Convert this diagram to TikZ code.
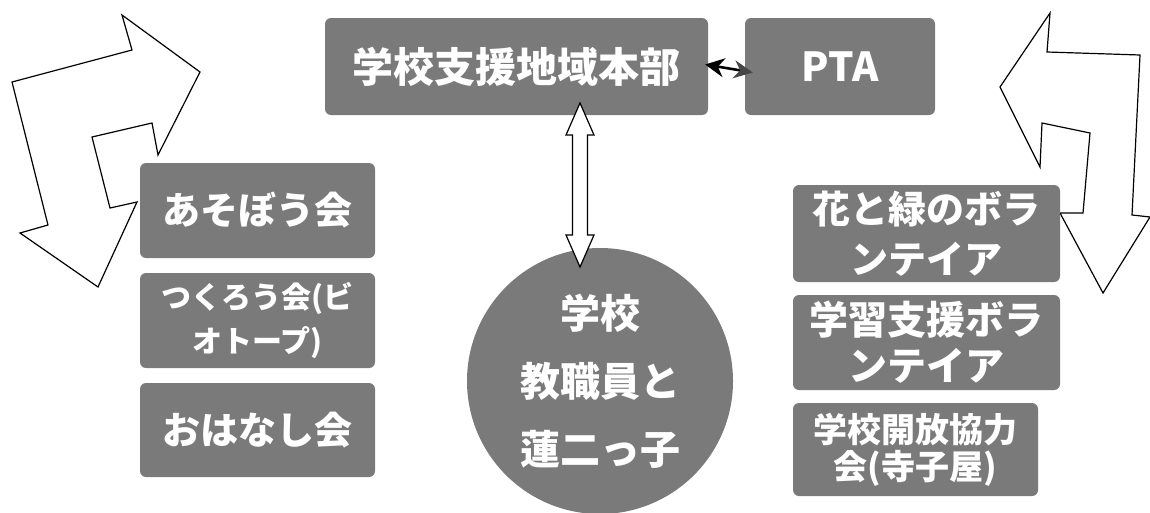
\documentclass[tikz,border=0pt]{standalone}
\usepackage{fontspec}
\newfontfamily\jp{Noto Sans CJK JP}
\usetikzlibrary{arrows.meta,calc}
\definecolor{boxgray}{RGB}{122,122,122}
\definecolor{tipgray}{RGB}{70,70,70}
\tikzset{
  gbox/.style={draw=none, fill=boxgray, rounded corners=6pt, inner sep=0pt,
    text=white, align=center, font=\jp\bfseries},
  outl/.style={draw=black, line width=1.2pt, fill=white, line join=miter},
}
\begin{document}
\begin{tikzpicture}[x=1pt,y=-1pt]
\useasboundingbox (0,0) rectangle (1150,512);
% big outline arrows
\draw[outl] (200,72) -- (122,15) -- (132,50) -- (12,82) -- (48,225) -- (20,233)
  -- (98,287) -- (137,202) -- (110,208) -- (92,137) -- (152,123) -- (158,155) -- cycle;
\draw[outl] (1000,87) -- (1050,13) -- (1047,52) -- (1140,55) -- (1132,215) -- (1150,217)
  -- (1103,293) -- (1060,213) -- (1083,213) -- (1090,133) -- (1042,123) -- (1040,167) -- cycle;
% top boxes
\node[gbox, minimum width=383pt, minimum height=97pt, font=\jp\bfseries\fontsize{41}{48}\selectfont] (hq) at (516.5,66.5) {学校支援地域本部};
\node[gbox, minimum width=190pt, minimum height=97pt, font=\jp\bfseries\fontsize{40}{48}\selectfont] (pta) at (840,66.5) {PTA};
% left boxes
\node[gbox, minimum width=235pt, minimum height=95pt, font=\jp\bfseries\fontsize{38}{44}\selectfont] (asobo) at (257.5,210.5) {あそぼう会};
\node[gbox, minimum width=235pt, minimum height=95pt, font=\jp\bfseries\fontsize{30}{44}\selectfont] (tsukuro) at (257.5,320.5) {つくろう会(ビ\\オトープ)};
\node[gbox, minimum width=235pt, minimum height=94pt, font=\jp\bfseries\fontsize{38}{44}\selectfont] (ohanashi) at (257.5,430) {おはなし会};
% right boxes
\node[gbox, minimum width=267pt, minimum height=97pt, font=\jp\bfseries\fontsize{38}{50}\selectfont] (hana) at (926.5,233.5) {花と緑のボラ\\ンテイア};
\node[gbox, minimum width=267pt, minimum height=95pt, font=\jp\bfseries\fontsize{39}{46}\selectfont] (gakushu) at (926.5,342.5) {学習支援ボラ\\ンテイア};
\node[gbox, minimum width=245pt, minimum height=93pt, font=\jp\bfseries\fontsize{34}{37}\selectfont] (kaiho) at (915.5,449.5) {学校開放協力\\会(寺子屋)};
% circle
\node[gbox, circle, minimum size=266pt, font=\jp\bfseries\fontsize{40}{68}\selectfont] (school) at (600,381) {学校\\教職員と\\蓮二っ子};
% vertical white double arrow
\coordinate (vt) at (580,103);
\coordinate (vb) at (580,267);
\draw[outl] (vt) -- ($(vt)+(14,32)$) -- ($(vt)+(7.5,32)$) -- ($(vb)+(7.5,-32)$) -- ($(vb)+(14,-32)$)
  -- (vb) -- ($(vb)+(-14,-32)$) -- ($(vb)+(-7.5,-32)$) -- ($(vt)+(-7.5,32)$) -- ($(vt)+(-14,32)$) -- cycle;
% small black double arrow
\draw[line width=2.6pt, {Stealth[length=19pt,width=19pt,color=black]}-{Stealth[length=19pt,width=18pt,color=tipgray]}]
  ($(hq.east)+(-3,-2)$) -- ($(pta.west)+(8,6)$);
\end{tikzpicture}
\end{document}
